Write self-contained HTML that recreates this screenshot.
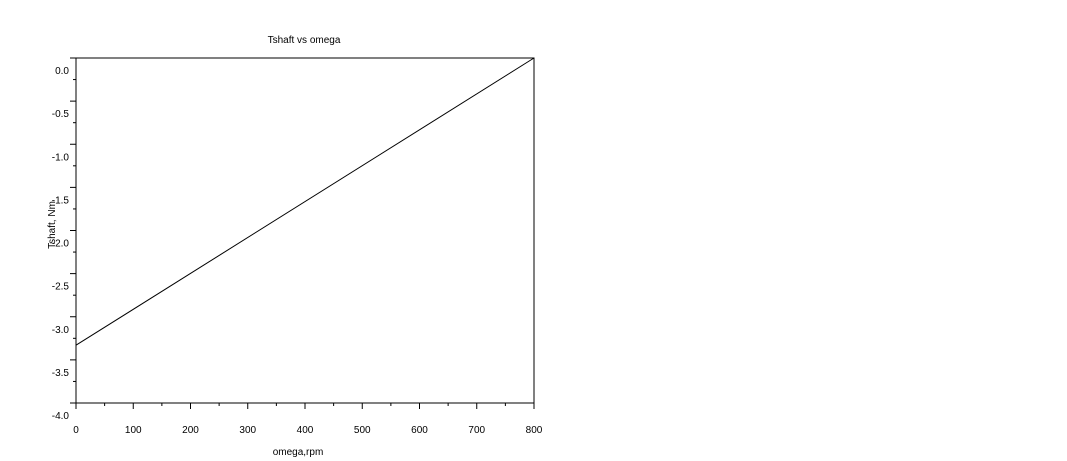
<!DOCTYPE html>
<html><head><meta charset="utf-8"><style>
html,body{margin:0;padding:0;background:#fff;width:1067px;height:461px;overflow:hidden}
svg text{font-family:"Liberation Sans",Arial,sans-serif;font-size:10px;fill:#000}
</style></head><body>
<svg width="1067" height="461">
<text x="304" y="43" text-anchor="middle">Tshaft vs omega</text>
<text x="298" y="455" text-anchor="middle">omega,rpm</text>
<text transform="translate(55,225) rotate(-90)" text-anchor="middle">Tshaft, Nm</text>
<g id="g"></g>
</svg>
<script>
const xTicks=[0,100,200,300,400,500,600,700,800];
const xTickLabels=["0","100","200","300","400","500","600","700","800"];
const yTicks=[0,-0.5,-1,-1.5,-2,-2.5,-3,-3.5,-4];
const yTickLabels=["0.0","-0.5","-1.0","-1.5","-2.0","-2.5","-3.0","-3.5","-4.0"];
const omega=[0,800];
const tshaft=[-3.33,0];
const L=76,R=534,T=58,B=403;
const X=v=>L+(v-0)/(800)*(R-L);
const Y=v=>T+(0-v)/4*(B-T);
const g=document.getElementById('g');
const NS='http://www.w3.org/2000/svg';
function mk(t,a){const e=document.createElementNS(NS,t);for(const k in a)e.setAttribute(k,a[k]);g.appendChild(e);return e;}
let e=mk('rect',{x:L,y:T,width:R-L,height:B-T,fill:'none',stroke:'#000','stroke-width':1});


for(let i=0;i<xTicks.length;i++){
 const x=X(xTicks[i]);
 e=mk('line',{x1:x,x2:x,y1:B,y2:B+6,stroke:'#000'});
 
 
 if(i<xTicks.length-1){const xm=X(xTicks[i]+50);
 e=mk('line',{x1:xm,x2:xm,y1:B,y2:B+3,stroke:'#000'});
 
 }
 e=mk('text',{x:x,y:B+30,'text-anchor':'middle'});e.textContent=xTickLabels[i];
 
 
}
for(let i=0;i<yTicks.length;i++){
 const y=Y(yTicks[i]);
 e=mk('line',{x1:L-6,x2:L,y1:y,y2:y,stroke:'#000'});
 
 
 if(i<yTicks.length-1){const ym=Y(yTicks[i]-0.25);
 e=mk('line',{x1:L-3,x2:L,y1:ym,y2:ym,stroke:'#000'});
 
 }
 e=mk('text',{x:L-7,y:y+16,'text-anchor':'end'});e.textContent=yTickLabels[i];
 
 
}
e=mk('polyline',{points:omega.map((o,i)=>X(o)+','+Y(tshaft[i])).join(' '),fill:'none',stroke:'#000','stroke-width':1});


</script>
</body></html>
